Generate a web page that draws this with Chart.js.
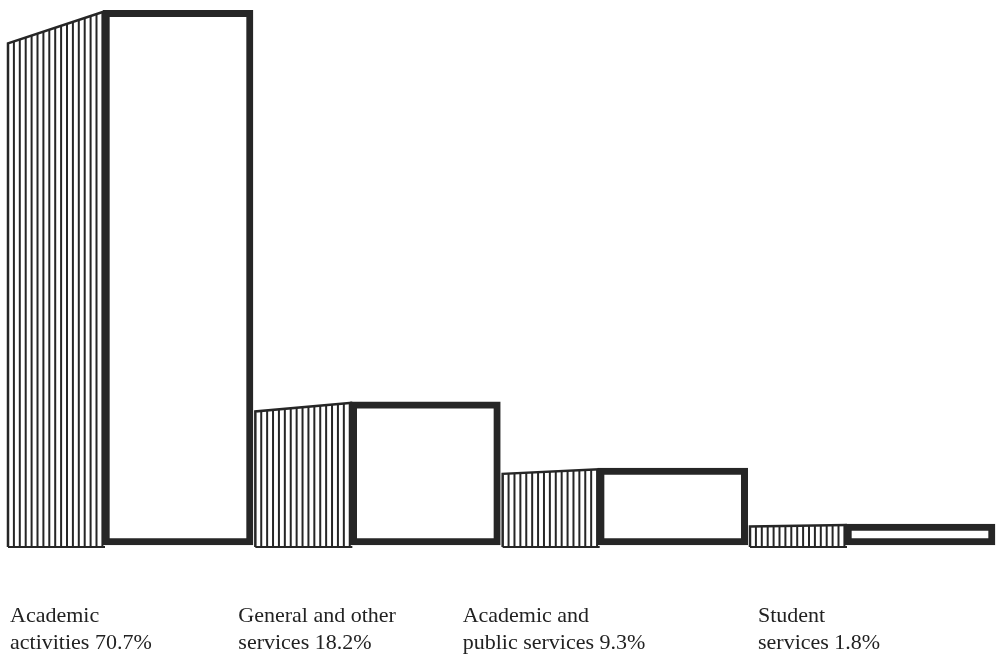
<!DOCTYPE html>
<html><head><meta charset="utf-8">
<script src="https://cdn.jsdelivr.net/npm/chart.js@4.4.1/dist/chart.umd.min.js"></script>
<style>html,body{margin:0;padding:0;background:#fff;}#wrap{width:1002px;height:655px;position:relative;}</style>
</head><body><div id="wrap"><canvas id="c"></canvas></div>
<script>
// ---- data ----
const categories = ["Academic activities", "General and other services", "Academic and public services", "Student services"];
const values = [70.7, 18.2, 9.3, 1.8];
const labelFirstLines = ["Academic", "General and other", "Academic and", "Student"];
const labelSecondLines = ["activities", "services", "public services", "services"];

// ---- layout / style ----
const INK = '#262626';
const SIDE_WIDTH = 97;          // width of hatched side face
const HATCH_STEP = 5.9;
const SLANT = 0.06;             // drop of side-face top edge, fraction of bar height
const labelOffsets = [4, -15, -38, 10];  // label x relative to slot start

const sideFaces = {
  id: 'sideFaces',
  beforeDatasetsDraw(chart) {
    const ctx = chart.ctx;
    const meta = chart.getDatasetMeta(0);
    ctx.save();
    meta.data.forEach(bar => {
      const p = bar.getProps(['x', 'y', 'base', 'width'], true);
      const right = p.x - p.width / 2 + 2;
      const left = right - SIDE_WIDTH;
      const top = p.y + 1;
      const bottom = p.base + 2;
      const topLeft = top + SLANT * (bottom - top);
      const yAt = xx => topLeft + (top - topLeft) * (xx - left) / (right - left);
      ctx.strokeStyle = INK;
      ctx.lineWidth = 2;
      for (let xx = left + HATCH_STEP; xx < right; xx += HATCH_STEP) {
        ctx.beginPath();
        ctx.moveTo(xx, yAt(xx));
        ctx.lineTo(xx, bottom);
        ctx.stroke();
      }
      ctx.lineWidth = 2.5;
      ctx.beginPath();
      ctx.moveTo(left, bottom);
      ctx.lineTo(left, topLeft);
      ctx.lineTo(right, top);
      ctx.stroke();
      ctx.lineWidth = 2;
      ctx.beginPath();
      ctx.moveTo(left, bottom);
      ctx.lineTo(right, bottom);
      ctx.stroke();
    });
    ctx.restore();
  }
};

const bottomLabels = {
  id: 'bottomLabels',
  afterDraw(chart) {
    const ctx = chart.ctx;
    const meta = chart.getDatasetMeta(0);
    ctx.save();
    ctx.fillStyle = '#222';
    ctx.font = '22px "Liberation Serif", "DejaVu Serif", serif';
    ctx.textAlign = 'left';
    ctx.textBaseline = 'alphabetic';
    meta.data.forEach((bar, i) => {
      const p = bar.getProps(['x', 'width'], true);
      const slotLeft = p.x - p.width / 2 - SIDE_WIDTH;
      const lx = slotLeft + labelOffsets[i];
      const base = chart.chartArea.bottom;
      ctx.fillText(labelFirstLines[i], lx, base + 75);
      ctx.fillText(labelSecondLines[i] + ' ' + values[i] + '%', lx, base + 102);
    });
    ctx.restore();
  }
};

new Chart(document.getElementById('c'), {
  type: 'bar',
  data: {
    labels: categories,
    datasets: [{
      data: values,
      backgroundColor: '#ffffff',
      borderColor: INK,
      borderWidth: 7,
      borderSkipped: false,
      barThickness: 150,
      base: -1,
      clip: false
    }]
  },
  options: {
    responsive: true,
    maintainAspectRatio: false,
    animation: false,
    layout: { padding: { left: 178, right: 82, top: 8, bottom: 108.5 } },
    plugins: { legend: { display: false }, tooltip: { enabled: false } },
    scales: {
      x: { type: 'category', offset: false, display: false },
      y: { type: 'linear', min: -1.2, max: 71, display: false }
    }
  },
  plugins: [sideFaces, bottomLabels]
});
</script>
</body></html>
